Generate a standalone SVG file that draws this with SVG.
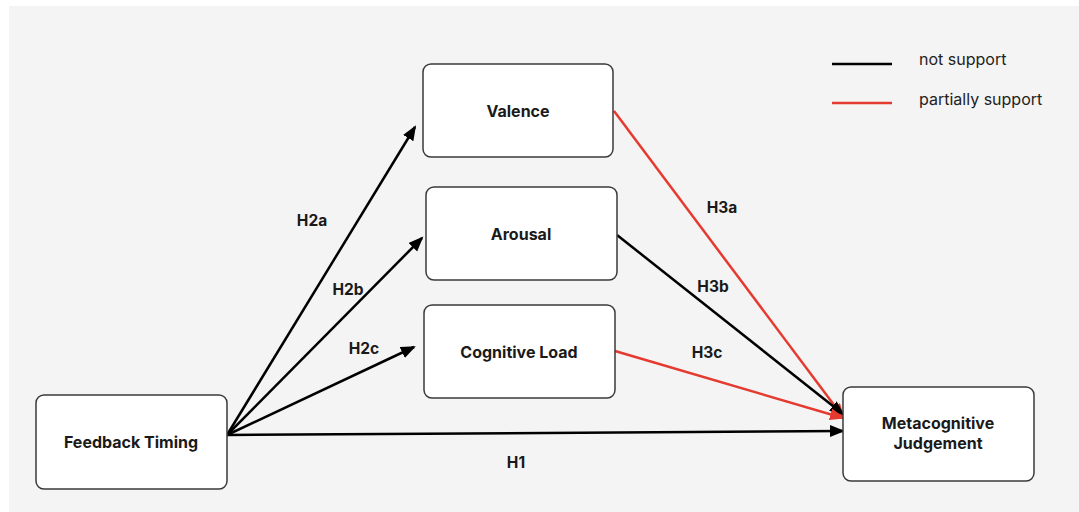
<svg xmlns="http://www.w3.org/2000/svg" width="1079" height="512" viewBox="0 0 1079 512">
<defs>
<style>
.box{fill:#ffffff;stroke:#3a3a3a;stroke-width:1.5}
.nl{font-family:Inter,"Liberation Sans",sans-serif;font-weight:700;font-size:16px;fill:#1a1a1a;text-anchor:middle;dominant-baseline:central}
.el{font-family:Inter,"Liberation Sans",sans-serif;font-weight:700;font-size:15.5px;fill:#1a1a1a;text-anchor:middle;dominant-baseline:central}
.lg{font-family:Inter,"Liberation Sans",sans-serif;font-size:16px;fill:#222;dominant-baseline:central}
.blk{stroke:#000;stroke-width:2.5;fill:none}
.red{stroke:#e53a2f;stroke-width:2.5;fill:none}
</style>
<marker id="ab" markerUnits="userSpaceOnUse" markerWidth="16" markerHeight="14" refX="13" refY="6" orient="auto">
<path d="M0,0 L15,6 L0,12 z" fill="#000"/>
</marker>
<marker id="ar" markerUnits="userSpaceOnUse" markerWidth="16" markerHeight="14" refX="13" refY="6" orient="auto">
<path d="M0,0 L15,6 L0,12 z" fill="#e53a2f"/>
</marker>
</defs>
<rect x="9" y="6" width="1070" height="506" fill="#f4f4f4"/>
<g id="legend">
<line x1="832" y1="64" x2="892" y2="64" class="blk"/>
<text x="919" y="59" class="lg">not support</text>
<line x1="832" y1="103" x2="892" y2="103" class="red"/>
<text x="919" y="99" class="lg">partially support</text>
</g>
<g id="connectors">
<line x1="227" y1="435" x2="415" y2="127" class="blk" marker-end="url(#ab)"/>
<line x1="227" y1="435" x2="422" y2="238" class="blk" marker-end="url(#ab)"/>
<line x1="227" y1="435" x2="414" y2="347" class="blk" marker-end="url(#ab)"/>
<line x1="227" y1="435" x2="843" y2="431" class="blk" marker-end="url(#ab)"/>
<line x1="614" y1="111" x2="843" y2="417" class="red" marker-end="url(#ar)"/>
<line x1="617" y1="235" x2="843" y2="414" class="blk" marker-end="url(#ab)"/>
<line x1="615" y1="351" x2="843" y2="418" class="red" marker-end="url(#ar)"/>
<text x="312" y="220" class="el">H2a</text>
<text x="348" y="289" class="el">H2b</text>
<text x="364" y="348" class="el">H2c</text>
<text x="516" y="462" class="el">H1</text>
<text x="722" y="207" class="el">H3a</text>
<text x="713" y="286" class="el">H3b</text>
<text x="707" y="352" class="el">H3c</text>
</g>
<g id="valence">
<rect x="423" y="64" width="190" height="93" rx="8" class="box"/>
<text x="518" y="111" class="nl">Valence</text>
</g>
<g id="arousal">
<rect x="426" y="187" width="191" height="93" rx="8" class="box"/>
<text x="521" y="234" class="nl">Arousal</text>
</g>
<g id="cognitive-load">
<rect x="424" y="305" width="191" height="93" rx="8" class="box"/>
<text x="519" y="352" class="nl">Cognitive Load</text>
</g>
<g id="feedback-timing">
<rect x="36" y="395" width="191" height="94" rx="8" class="box"/>
<text x="131" y="442" class="nl">Feedback Timing</text>
</g>
<g id="metacognitive-judgement">
<rect x="843" y="387" width="191" height="94" rx="8" class="box"/>
<text x="938" y="423" class="nl">Metacognitive</text>
<text x="938" y="443" class="nl">Judgement</text>
</g>
</svg>
